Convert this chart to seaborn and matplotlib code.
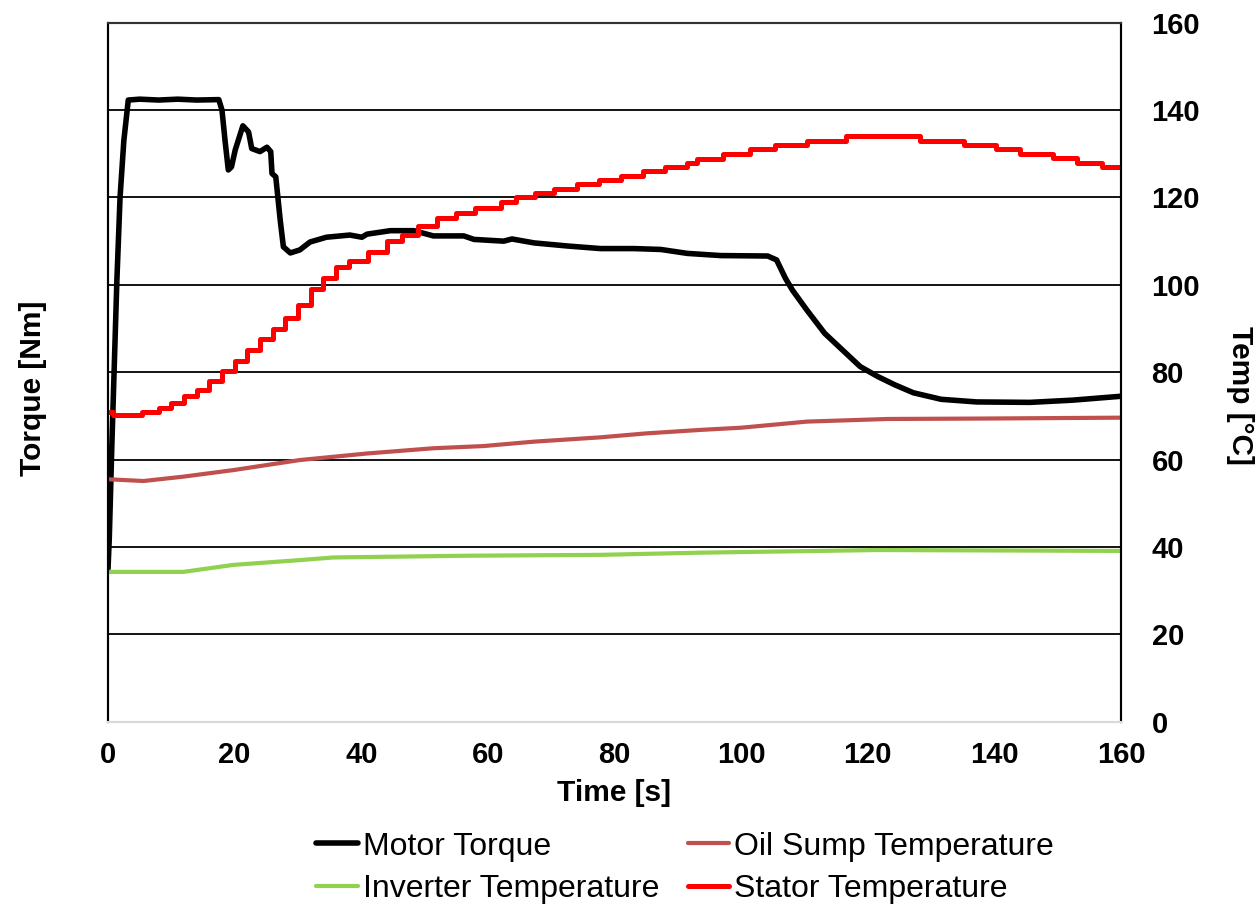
import numpy as np
import pandas as pd
import matplotlib
matplotlib.use('Agg')
import matplotlib.pyplot as plt
import seaborn as sns

# Motor torque [Nm] (left axis, drawn on the same 0-160 grid)
torque_t = [0, 0.2, 0.6, 1.4, 1.9, 2.5, 3.2, 5, 8, 11, 14, 17.5,
            18.0, 18.5, 19.0, 19.5, 20.1, 21.3, 22.2, 22.7, 24.0, 25.1,
            25.7, 25.9, 26.5, 27.2, 27.7, 28.8, 30.3, 31.9, 34.5, 38.2,
            40.1, 40.9, 44.6, 48.3, 51.4, 56.2, 57.8, 62.5, 63.8, 67.3,
            72.5, 77.8, 83.1, 87.3, 91.5, 96.8, 104.2, 105.6, 107.0, 108.1,
            110.4, 113.2, 116.0, 118.8, 121.6, 124.3, 127.2, 131.6, 137.2, 145.6,
            152.3, 160]
torque_v = [35, 42, 63, 101, 120, 133, 142.3, 142.5, 142.3, 142.5, 142.3, 142.4,
            140, 132.8, 126.3, 127, 130.9, 136.4, 135, 131.2, 130.5, 131.5,
            130.5, 125.5, 124.7, 114.8, 108.7, 107.3, 108, 109.8, 110.9, 111.4,
            110.9, 111.6, 112.4, 112.4, 111.2, 111.2, 110.4, 110.0, 110.5, 109.6,
            108.9, 108.3, 108.3, 108.1, 107.2, 106.7, 106.6, 105.7, 101.5, 98.8,
            94.2, 88.9, 85.1, 81.3, 79.0, 77.1, 75.3, 73.8, 73.2, 73.1,
            73.6, 74.5]

# Oil sump temperature [°C]
oil_t = [0, 5.6, 11.9, 19.8, 30.3, 40.9, 51.4, 59.3, 67.2, 77.8, 85,
         93.6, 100, 110.4, 123.2, 138.3, 160]
oil_v = [55.5, 55.1, 56.1, 57.6, 59.9, 61.4, 62.6, 63.1, 64.1, 65.1, 66.0,
         66.8, 67.3, 68.7, 69.3, 69.4, 69.6]

# Inverter temperature [°C]
inv_t = [0, 11.9, 19.8, 30.3, 35.6, 46.2, 56.7, 77.8, 93.6, 121.6, 160]
inv_v = [34.3, 34.3, 35.9, 37.0, 37.6, 37.8, 38.0, 38.2, 38.7, 39.3, 39.1]

# Stator temperature [°C] (logged in steps)
stator_t = [0, 0.8, 5.3, 8, 10, 12, 14, 16, 18, 20, 22, 24, 26, 28, 30,
            32, 34, 36, 38, 41, 44, 46.5, 49, 52, 55, 58, 62, 64.5, 67.5,
            70.5, 74, 77.5, 81, 84.5, 88, 91.5, 93, 97.2, 101.4, 105.3,
            110.4, 116.5, 128.2, 135.2, 140.3, 144.1, 149.2, 153.1, 157, 160]
stator_v = [71, 70.2, 71, 71.8, 73, 74.5, 76, 78, 80.3, 82.5, 85, 87.5, 90, 92.5, 95.5,
            99, 101.5, 104, 105.5, 107.5, 110, 111.5, 113.5, 115.2, 116.5, 117.7, 119, 120, 121,
            122, 123, 124, 125, 126, 127, 128, 128.8, 130, 131, 132,
            133, 134, 133, 132, 131, 130, 129, 128, 127, 127]

sns.set_style('white')
plt.rcParams['font.family'] = ['Liberation Sans', 'DejaVu Sans']
plt.rcParams['text.color'] = 'black'
plt.rcParams['axes.labelcolor'] = 'black'
plt.rcParams['xtick.color'] = 'black'
plt.rcParams['ytick.color'] = 'black'

fig = plt.figure(figsize=(12.56, 9.05), dpi=100)
ax = fig.add_axes([0.086, 0.2025, 0.8065, 0.7724])
ax2 = ax.twinx()

sns.lineplot(x=torque_t, y=torque_v, ax=ax, color='black',
             linewidth=4.0, label='Motor Torque', legend=False)
sns.lineplot(x=oil_t, y=oil_v, ax=ax2, color='#C0504D',
             linewidth=3.0, label='Oil Sump Temperature', legend=False)
sns.lineplot(x=inv_t, y=inv_v, ax=ax2, color='#92D050',
             linewidth=3.0, label='Inverter Temperature', legend=False)
sns.lineplot(x=stator_t, y=stator_v, ax=ax2, color='#FF0000',
             linewidth=3.6, drawstyle='steps-post',
             label='Stator Temperature', legend=False)

for a in (ax, ax2):
    a.set_xlim(0, 160)
    a.set_ylim(0, 160)
    a.set_yticks(np.arange(0, 161, 20))

# grid on the torque axis, labels only on the temperature axis
ax.grid(axis='y', color='black', linewidth=1.3)
ax.grid(axis='x', visible=False)
ax2.grid(False)
ax.tick_params(axis='y', left=False, labelleft=False, length=0)
ax.set_xticks(np.arange(0, 161, 20))
ax.tick_params(axis='x', length=0, pad=14, labelsize=21)
for lab in ax.get_xticklabels():
    lab.set_fontweight('bold')
ax2.tick_params(axis='y', length=0, pad=22, labelsize=21)
for lab in ax2.get_yticklabels():
    lab.set_fontweight('bold')

for a in (ax, ax2):
    a.spines['left'].set_color('black')
    a.spines['right'].set_color('black')
    a.spines['top'].set_color('#333333')
    a.spines['bottom'].set_color('#d9d9d9')
    for s in a.spines.values():
        s.set_linewidth(1.5)

ax.set_xlabel('Time [s]', fontsize=21.5, fontweight='bold')
ax.xaxis.set_label_coords(614 / 1256, 1 - 779 / 905, transform=fig.transFigure)
ax.set_ylabel('Torque [Nm]', fontsize=21.5, fontweight='bold')
ax.yaxis.set_label_coords(47 / 1256, 1 - 388 / 905, transform=fig.transFigure)
ax2.set_ylabel('Temp [°C]', fontsize=21.5, fontweight='bold', rotation=270,
               va='center')
ax2.yaxis.set_label_coords(1240 / 1256, 1 - 395 / 905, transform=fig.transFigure)

handles = ax.get_lines() + ax2.get_lines()
order = [0, 2, 1, 3]  # Motor, Inverter | Oil, Stator (column-wise fill)
hs = [handles[i] for i in order]
fig.legend(hs, [h.get_label() for h in hs], ncol=2, loc='center',
           bbox_to_anchor=(685 / 1256, 1 - 868 / 905), frameon=False,
           fontsize=23, handlelength=1.3, handletextpad=0.15,
           columnspacing=0.9, labelspacing=0.4)

fig.savefig('out.png', dpi=100)
